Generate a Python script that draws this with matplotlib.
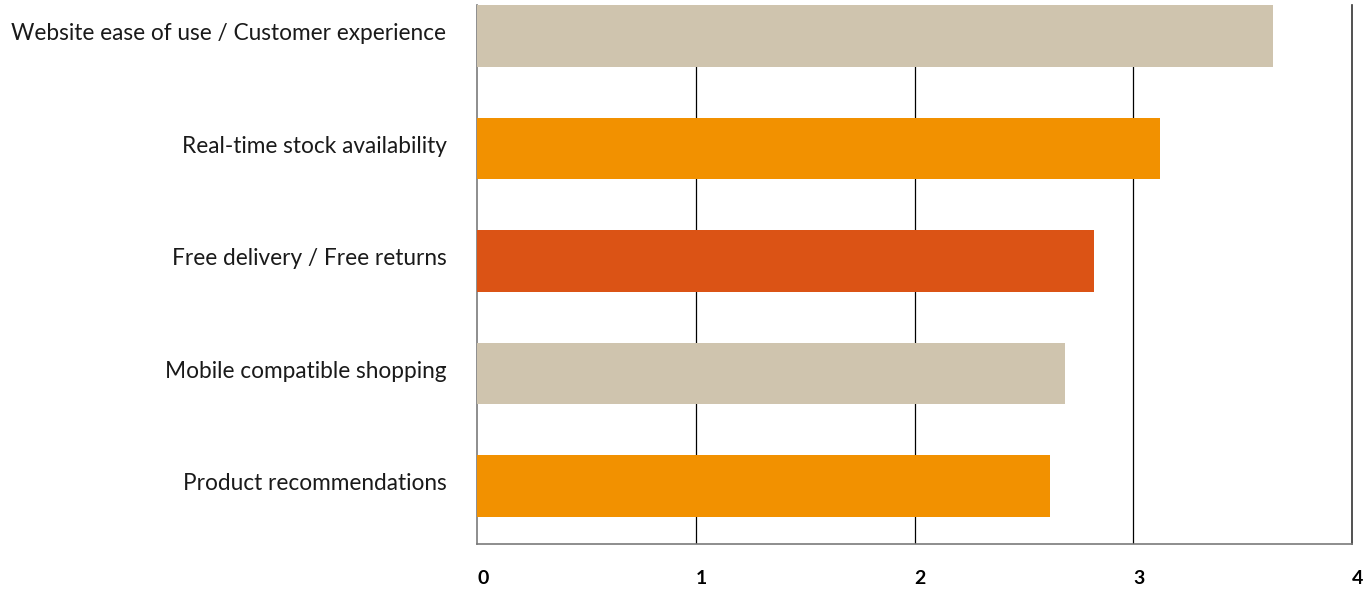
"""Horizontal bar chart of online shopping feature ratings."""

import matplotlib

matplotlib.use("Agg")
import matplotlib.pyplot as plt
import matplotlib.transforms as mtransforms
import numpy as np

plt.rcParams["font.family"] = ["Lato", "DejaVu Sans"]

features = [
    "Website ease of use / Customer experience",
    "Real-time stock availability",
    "Free delivery / Free returns",
    "Mobile compatible shopping",
    "Product recommendations",
]
scores = [3.64, 3.12, 2.82, 2.69, 2.62]
bar_colors = ["#CFC4AE", "#F29100", "#DB5315", "#CFC4AE", "#F29100"]
x_ticks = [0, 1, 2, 3, 4]

figure = plt.figure(figsize=(13.7, 5.89), dpi=100)
axis = figure.add_axes([0.3482, 0.0764, 0.6387, 0.9151])

positions = np.arange(len(features))
bar_height = 0.551
axis.barh(positions, scores, height=bar_height, color=bar_colors, zorder=3)

axis.set_xlim(0, 4)
axis.set_ylim(len(features) - 1 + 0.5156, -bar_height / 2)
axis.set_xticks(x_ticks)
axis.set_xticklabels([str(t) for t in x_ticks], fontweight="bold", fontsize=14)
for label in axis.get_xticklabels():
    label.set_horizontalalignment("left")
axis.set_yticks(positions)
axis.set_yticklabels(features, fontsize=16.3, color="#1a1a1a")
axis.tick_params(axis="x", length=0, pad=19)
axis.tick_params(axis="y", length=0, pad=22)

# nudge category labels slightly above the bar centres
lift = mtransforms.ScaledTranslation(0, 4 / 100, figure.dpi_scale_trans)
for label in axis.get_yticklabels():
    label.set_transform(label.get_transform() + lift)

for x in x_ticks[1:-1]:
    axis.axvline(x, color="#000000", linewidth=0.9, zorder=2)

axis.spines["top"].set_visible(False)
axis.spines["left"].set_color("#7a7a7a")
axis.spines["bottom"].set_color("#7a7a7a")
axis.spines["right"].set_color("#333333")
for side in ("left", "bottom", "right"):
    axis.spines[side].set_linewidth(1.2)

figure.savefig("out.png", dpi=100)
plt.close(figure)
